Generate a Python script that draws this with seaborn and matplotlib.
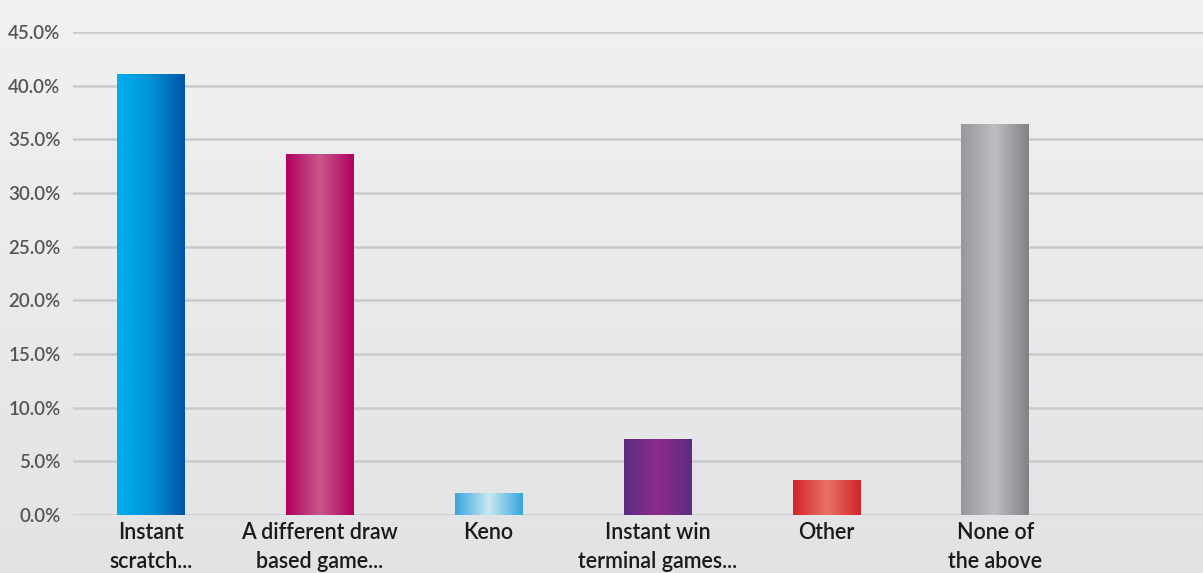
import matplotlib
matplotlib.use("Agg")
import matplotlib.pyplot as plt
import numpy as np
import pandas as pd
import seaborn as sns
from matplotlib.colors import LinearSegmentedColormap

categories = [
    "Instant\nscratch...",
    "A different draw\nbased game...",
    "Keno",
    "Instant win\nterminal games...",
    "Other",
    "None of\nthe above",
]
values = [41.1, 33.6, 2.05, 7.1, 3.25, 36.4]
yticks = [0, 5, 10, 15, 20, 25, 30, 35, 40, 45]

# left -> right colour stops for each bar
bar_gradients = [
    ["#00aeef", "#0093d6", "#0054a6"],
    ["#b0005f", "#c9588a", "#b0005f"],
    ["#36a6de", "#c8eaf2", "#36a6de"],
    ["#5b2d82", "#8e2a8c", "#5b2d82"],
    ["#d2232a", "#e87465", "#d2232a"],
    ["#97989c", "#bdbec1", "#808285"],
]

sns.set_style("white")
plt.rcParams["font.family"] = ["Lato", "DejaVu Sans"]

df = pd.DataFrame({"category": categories, "share": values})

fig = plt.figure(figsize=(12.03, 5.73), dpi=100)

# soft grey page background
bg = fig.add_axes([0, 0, 1, 1], zorder=-10)
grad = np.linspace(0, 1, 256).reshape(-1, 1)
bg.imshow(grad, aspect="auto", extent=[0, 1, 0, 1],
          cmap=LinearSegmentedColormap.from_list("bg", ["#f1f1f1", "#e2e3e4"]))
bg.set_axis_off()

ax = fig.add_axes([73 / 1203, 58 / 573, 1 - 73 / 1203, 483 / 573])
ax.patch.set_alpha(0)

sns.barplot(data=df, x="category", y="share", width=0.4, ax=ax, color="white")

# gradient fill clipped to each bar
for patch, stops in zip(ax.patches, bar_gradients):
    x0, y0 = patch.get_x(), patch.get_y()
    w, h = patch.get_width(), patch.get_height()
    patch.set_facecolor("none")
    patch.set_edgecolor("none")
    cmap = LinearSegmentedColormap.from_list("bar", stops)
    img = ax.imshow(np.linspace(0, 1, 256).reshape(1, -1), aspect="auto",
                    extent=[x0, x0 + w, y0, y0 + h], cmap=cmap, zorder=3)
    img.set_clip_path(patch)

ax.set_ylim(0, 45)
ax.set_xlim(-0.46, 6.23)

ax.set_yticks(yticks)
ax.set_yticklabels([f"{t:.1f}%" for t in yticks], fontsize=13.5,
                   color="#555555", fontweight="semibold")
ax.tick_params(axis="both", length=0)
ax.tick_params(axis="y", pad=9)
ax.tick_params(axis="x", pad=5)
for lbl in ax.get_xticklabels():
    lbl.set_fontsize(15.5)
    lbl.set_color("#1a1a1a")
    lbl.set_linespacing(1.5)
    lbl.set_fontweight("semibold")

ax.yaxis.grid(True, color="#c9cacb", linewidth=1.8)
ax.set_axisbelow(True)
ax.set_xlabel("")
ax.set_ylabel("")
sns.despine(ax=ax, left=True, bottom=True, top=True, right=True)

fig.savefig("out.png", dpi=100)
